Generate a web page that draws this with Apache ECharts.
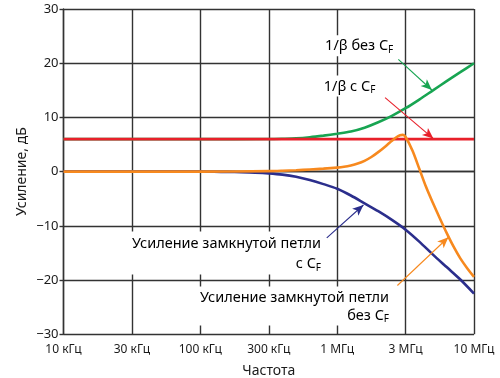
<!DOCTYPE html>
<html><head><meta charset="utf-8">
<script src="https://cdn.jsdelivr.net/npm/echarts@6/dist/echarts.min.js"></script>
<style>html,body{margin:0;padding:0;background:#fff}#c{width:500px;height:378px}</style>
</head><body><div id="c"></div>
<script>
// x values are positions in decades: log10(frequency in Hz), ticks every half decade
const xTickLabels = ['10 кГц', '30 кГц', '100 кГц', '300 кГц', '1 МГц', '3 МГц', '10 МГц'];
const yTickValues = [-30, -20, -10, 0, 10, 20, 30];

// 1/β с CF (red)
const betaWithX = [4.0, 5.0, 6.0, 7.0];
const betaWithY = [6.0, 6.0, 6.0, 6.0];

// 1/β без CF (green)
const betaWithoutX = [4.0, 5.0, 5.5, 5.6, 5.7, 5.8, 5.9, 6.0, 6.1, 6.2, 6.3, 6.4, 6.5, 6.6, 6.7, 6.8, 6.9, 7.0];
const betaWithoutY = [6.0, 6.0, 6.02, 6.07, 6.15, 6.35, 6.65, 7.0, 7.4, 8.1, 9.1, 10.3, 11.7, 13.3, 15.0, 16.7, 18.35, 20.0];

// Усиление замкнутой петли без CF (orange)
const clNoCfX = [4.0, 5.0, 5.5, 5.6, 5.7, 5.8, 5.9, 6.0, 6.05, 6.1, 6.15, 6.2, 6.25, 6.3, 6.35, 6.4, 6.43, 6.46, 6.48, 6.5, 6.55, 6.6, 6.65, 6.7, 6.75, 6.8, 6.85, 6.9, 6.95, 7.0];
const clNoCfY = [0.0, 0.0, 0.1, 0.17, 0.27, 0.4, 0.55, 0.75, 0.9, 1.15, 1.5, 2.0, 2.7, 3.6, 4.6, 5.7, 6.3, 6.7, 6.78, 6.4, 3.9, 0.55, -2.85, -5.8, -8.6, -11.3, -13.8, -16.0, -17.8, -19.4];

// Усиление замкнутой петли с CF (blue)
const clCfX = [4.0, 5.0, 5.1, 5.2, 5.3, 5.4, 5.5, 5.6, 5.7, 5.8, 5.9, 6.0, 6.1, 6.2, 6.3, 6.4, 6.5, 6.6, 6.7, 6.8, 6.9, 7.0];
const clCfY = [0.0, 0.0, -0.02, -0.05, -0.1, -0.18, -0.32, -0.55, -0.95, -1.55, -2.3, -3.15, -4.4, -5.85, -7.3, -8.9, -10.7, -12.9, -15.3, -17.6, -19.9, -22.5];

const FONT = 'Noto Sans';
const C_GREEN = '#18a552', C_RED = '#e8202a', C_ORANGE = '#f7891e', C_BLUE = '#2b2e8c';

function zip(xs, ys) { return xs.map((x, i) => [x, ys[i]]); }
function arrow(from, to) { return [{ coord: from }, { coord: to }]; }
function ml(color, from, to) {
  return {
    silent: true, animation: false,
    symbol: ['none', 'arrow'], symbolSize: [7, 11],
    lineStyle: { color: color, width: 1.1, type: 'solid' },
    label: { show: false }, emphasis: { disabled: true },
    data: [arrow(from, to)]
  };
}
function line(name, xs, ys, color, mark, z) {
  return {
    name: name, type: 'line', data: zip(xs, ys), showSymbol: false,
    smooth: 0.3,
    lineStyle: { color: color, width: 2.6 }, itemStyle: { color: color },
    markLine: mark, animation: false, z: z
  };
}

const chart = echarts.init(document.getElementById('c'), null, { renderer: 'canvas' });
const gridColor = '#333333';
chart.setOption({
  animation: false,
  textStyle: { fontFamily: FONT },
  grid: { left: 63.5, right: 26, top: 9, bottom: 43.7, containLabel: false, outerBoundsMode: 'none' },
  xAxis: {
    type: 'value', min: 4, max: 7, interval: 0.5,
    name: 'Частота', nameLocation: 'middle', nameGap: 30, nameMoveOverlap: false,
    nameTextStyle: { fontSize: 14, color: '#1a1a1a', fontFamily: FONT },
    axisLine: { show: true, lineStyle: { color: gridColor, width: 1.4 } },
    axisTick: { show: false },
    splitLine: { show: true, lineStyle: { color: gridColor, width: 1.4 } },
    axisLabel: {
      margin: 9, fontSize: 12, color: '#1a1a1a', fontFamily: FONT,
      formatter: v => xTickLabels[Math.round((v - 4) / 0.5)]
    }
  },
  yAxis: {
    type: 'value', min: yTickValues[0], max: yTickValues[yTickValues.length - 1], interval: 10,
    name: 'Усиление, дБ', nameLocation: 'middle', nameGap: 34, nameMoveOverlap: false,
    nameTextStyle: { fontSize: 14, color: '#1a1a1a', fontFamily: FONT },
    axisLine: { show: true, lineStyle: { color: gridColor, width: 1.4 } },
    axisTick: { show: true, length: 4, lineStyle: { color: gridColor, width: 1.4 } },
    splitLine: { show: true, lineStyle: { color: gridColor, width: 1.4 } },
    axisLabel: {
      margin: 5, fontSize: 13, color: '#1a1a1a', fontFamily: FONT,
      formatter: v => (v < 0 ? '\u2212' + Math.abs(v) : String(v))
    }
  },
  series: [
    line('Усиление замкнутой петли с CF', clCfX, clCfY, C_BLUE, ml(C_BLUE, [5.924, -12.2], [6.192, -6.15]), 3),
    line('1/β без CF', betaWithoutX, betaWithoutY, C_GREEN, ml(C_GREEN, [6.447, 20.7], [6.692, 15.06]), 4),
    line('1/β с CF', betaWithX, betaWithY, C_RED, ml(C_RED, [6.35, 13.64], [6.703, 6.1]), 5),
    line('Усиление замкнутой петли без CF', clNoCfX, clNoCfY, C_ORANGE, ml(C_ORANGE, [6.44, -21.0], [6.813, -12.1]), 6)
  ]
});

// Annotation text boxes (anchored in data coordinates)
function rich(lh, align) {
  return {
    m: { fontSize: 14.5, lineHeight: lh, fontFamily: FONT, color: '#1a1a1a', align: align, verticalAlign: 'middle' },
    s: { fontSize: 10, lineHeight: 15, fontFamily: FONT, color: '#1a1a1a', align: align, verticalAlign: 'bottom' }
  };
}
const notes = [
  { at: [5.89, 23.2], align: 'left', text: '{m|1/β без C}{s|F}', lh: 18 },
  { at: [5.88, 15.8], align: 'left', text: '{m|1/β с C}{s|F}', lh: 18 },
  { at: [5.904, -15.0], align: 'right', text: '{m|Усиление замкнутой петли}\n{m|с C}{s|F}', lh: 20 },
  { at: [6.401, -24.8], align: 'right', text: '{m|Усиление замкнутой петли}\n{m|без C}{s|F}', lh: 18 }
];
const graphics = notes.map(n => {
  const p = chart.convertToPixel({ gridIndex: 0 }, n.at);
  return {
    type: 'text', x: p[0], y: p[1], z: 1, silent: true,
    style: {
      text: n.text, rich: rich(n.lh, n.align),
      align: n.align, verticalAlign: 'middle',
      backgroundColor: '#fff', padding: [2, 3, 1, 3]
    }
  };
});
chart.setOption({ graphic: graphics });
</script>
</body></html>
